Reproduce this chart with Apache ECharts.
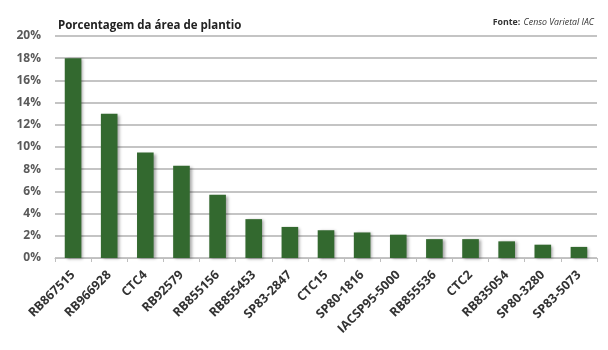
<!DOCTYPE html>
<html>
<head>
<meta charset="utf-8">
<script src="https://cdn.jsdelivr.net/npm/echarts@6/dist/echarts.min.js"></script>
<style>
  html, body { margin: 0; padding: 0; background: #fff; }
  #chart { width: 608px; height: 350px; }
</style>
</head>
<body>
<div id="chart"></div>
<script>
// variedades e percentuais
const categories = ['RB867515', 'RB966928', 'CTC4', 'RB92579', 'RB855156', 'RB855453', 'SP83-2847',
  'CTC15', 'SP80-1816', 'IACSP95-5000', 'RB855536', 'CTC2', 'RB835054', 'SP80-3280', 'SP83-5073']
const values = [18.0, 13.0, 9.5, 8.3, 5.7, 3.5, 2.8, 2.5, 2.3, 2.1, 1.7, 1.7, 1.5, 1.2, 1.0]
const titleText = 'Porcentagem da área de plantio'

const chart = echarts.init(document.getElementById('chart'))
chart.setOption({
  backgroundColor: '#fff',
  animation: false,
  title: {
    text: titleText,
    left: 53, top: 15,
    textStyle: { fontFamily: 'Open Sans', fontSize: 11.5, fontWeight: 'bold', color: '#222' }
  },
  graphic: [{
    type: 'text', right: 14, top: 16,
    style: {
      text: '{b|Fonte:} {i|Censo Varietal IAC}',
      rich: {
        b: { fontFamily: 'Open Sans', fontSize: 8.8, fontWeight: 'bold', fill: '#333' },
        i: { fontFamily: 'Open Sans', fontSize: 8.8, fontStyle: 'italic', fill: '#333' }
      }
    }
  }],
  grid: { left: 55, right: 11, top: 36, bottom: 92 },
  xAxis: {
    type: 'category',
    data: categories,
    axisLine: { lineStyle: { color: '#bfbfbf', width: 1 } },
    axisTick: { show: true, length: 4, lineStyle: { color: '#bfbfbf' } },
    axisLabel: {
      rotate: 45, interval: 0, margin: 15,
      fontFamily: 'Open Sans', fontSize: 12.5, fontWeight: 'bold', color: '#333'
    }
  },
  yAxis: {
    type: 'value', min: 0, max: 20, interval: 2,
    axisLine: { show: false }, axisTick: { show: false },
    axisLabel: {
      formatter: v => v + '%', margin: 14,
      fontFamily: 'Open Sans', fontSize: 12, fontWeight: 'bold', color: '#5a5a5a'
    },
    splitLine: { lineStyle: { color: '#c4c4c4', width: 2 } }
  },
  series: [{
    type: 'bar',
    data: values,
    barWidth: '46%',
    itemStyle: {
      color: '#33692f',
      shadowColor: 'rgba(0,0,0,0.35)', shadowBlur: 3, shadowOffsetX: 2, shadowOffsetY: 1
    }
  }]
})
</script>
</body>
</html>
